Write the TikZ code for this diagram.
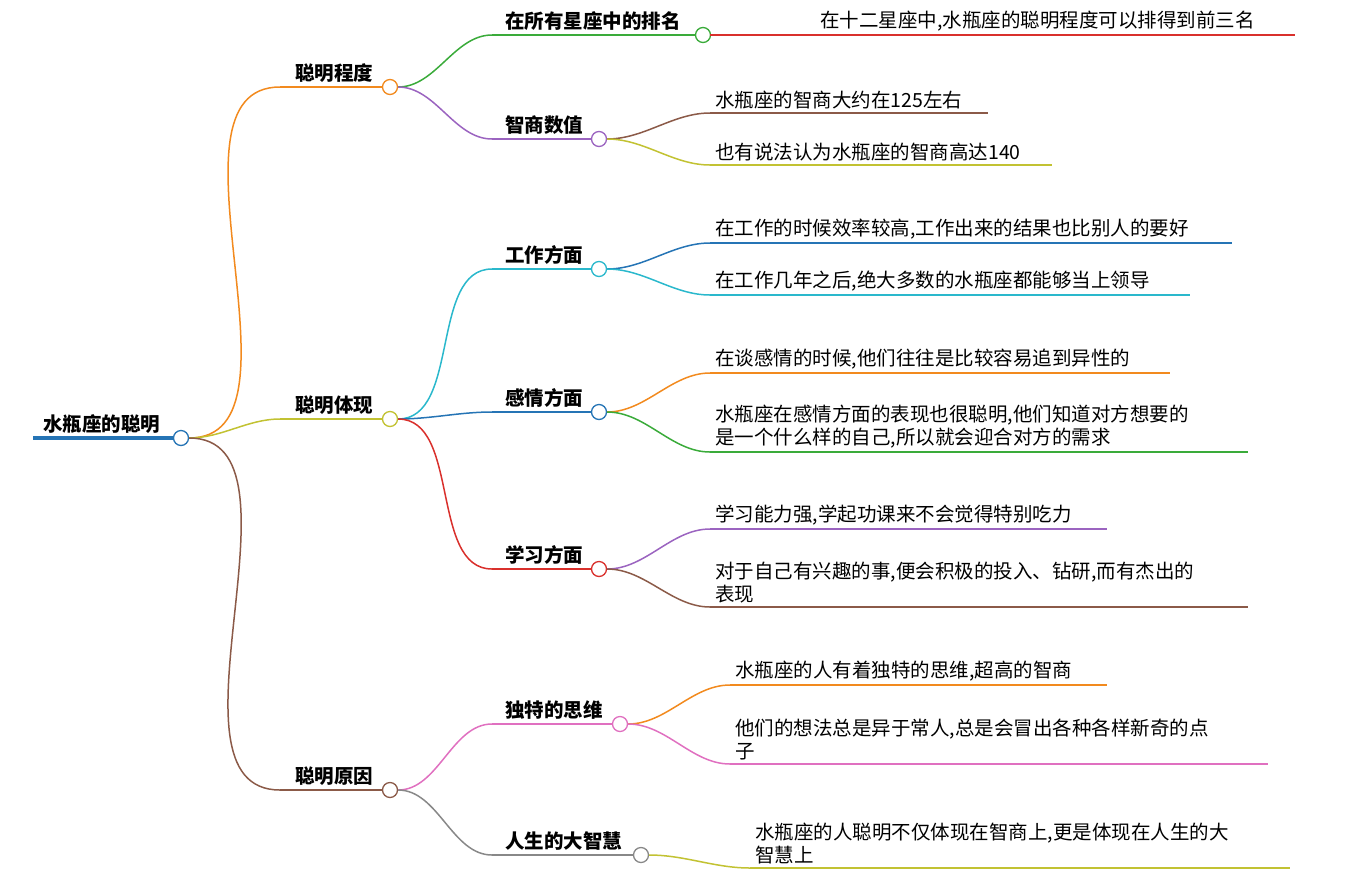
\documentclass[tikz,border=0pt]{standalone}
\usepackage{fontspec}
\setmainfont{Noto Sans CJK SC}
\usetikzlibrary{positioning,calc}
\definecolor{cOrange}{HTML}{F28A1E}
\definecolor{cOlive}{HTML}{C2C232}
\definecolor{cBrown}{HTML}{8B5A48}
\definecolor{cGreen}{HTML}{3AAB3A}
\definecolor{cPurple}{HTML}{9B64C0}
\definecolor{cRed}{HTML}{D9302C}
\definecolor{cCyan}{HTML}{2AB8CC}
\definecolor{cBlue}{HTML}{2574B5}
\definecolor{cPink}{HTML}{E070C0}
\definecolor{cGray}{HTML}{888888}
\tikzset{
	% circle on a branch
	dot/.style={circle, draw=#1, fill=white, line width=1.3pt, minimum size=15pt, inner sep=0pt},
	% bold branch labels
	topic/.style={font=\fontsize{19.5}{22}\selectfont\bfseries, inner sep=0pt, anchor=south west},
	% leaf texts
	leaf/.style={font=\fontsize{19.5}{23}\selectfont, inner sep=0pt, anchor=south west, align=left},
	link/.style={line width=1.5pt}
}
\newcommand{\branch}[3]{\draw[link, #1] (#2) to[out=0, in=180, looseness=0.9] (#3);}
\begin{document}
\begin{tikzpicture}[x=1pt,y=-1pt]
	\useasboundingbox (0,0) rectangle (1346,879);
	
	%root
	\coordinate (rootL) at (33,438);
	\node[dot=cBlue] (root) at (181,438) {};
	\draw[cBlue, line width=4pt] (rootL) -- (root.west);
	\node[topic] (rootT) at (43,434) {水瓶座的聪明};
	
	%level one
	\node[dot=cOrange] (deg) at (390,87) {};
	\node[dot=cOlive] (show) at (390,419) {};
	\node[dot=cBrown] (why) at (390,790) {};
	\coordinate (degL) at (280,87);
	\coordinate (showL) at (280,419);
	\coordinate (whyL) at (280,790);
	\draw[link, cOrange] (degL) -- (deg.west);
	\draw[link, cOlive] (showL) -- (show.west);
	\draw[link, cBrown] (whyL) -- (why.west);
	\branch{cOrange}{root.east}{degL}
	\branch{cOlive}{root.east}{showL}
	\branch{cBrown}{root.east}{whyL}
	\node[topic] at (295,83) {聪明程度};
	\node[topic] at (295,415) {聪明体现};
	\node[topic] at (295,786) {聪明原因};
	
	%level two
	\node[dot=cGreen] (rank) at (703,35) {};
	\node[dot=cPurple] (iq) at (599,139) {};
	\node[dot=cCyan] (work) at (599,269) {};
	\node[dot=cBlue] (love) at (599,412) {};
	\node[dot=cRed] (study) at (599,569) {};
	\node[dot=cPink] (think) at (620,724) {};
	\node[dot=cGray] (wise) at (641,855) {};
	\foreach \n/\p/\c/\t in {rank/deg/cGreen/在所有星座中的排名, iq/deg/cPurple/智商数值, work/show/cCyan/工作方面, love/show/cBlue/感情方面, study/show/cRed/学习方面, think/why/cPink/独特的思维, wise/why/cGray/人生的大智慧}{
		\coordinate (\n L) at (\n.west -| 492,0);
		\draw[link, \c] (\n L) -- (\n.west);
		\branch{\c}{\p.east}{\n L}
		\node[topic] at ($(\n L)+(13,-4)$) {\t};
	}
	
	%leaves
	\foreach \p/\y/\s/\e/\c/\t in {
		rank/35/710/1295/cRed/{\hspace{105pt}在十二星座中,水瓶座的聪明程度可以排得到前三名},
		iq/113/710/988/cBrown/{水瓶座的智商大约在125左右},
		iq/165/710/1052/cOlive/{也有说法认为水瓶座的智商高达140},
		work/243/710/1232/cBlue/{在工作的时候效率较高,工作出来的结果也比别人的要好},
		work/295/710/1190/cCyan/{在工作几年之后,绝大多数的水瓶座都能够当上领导},
		love/373/710/1170/cOrange/{在谈感情的时候,他们往往是比较容易追到异性的},
		love/452/710/1248/cGreen/{水瓶座在感情方面的表现也很聪明,他们知道对方想要的\\是一个什么样的自己,所以就会迎合对方的需求},
		study/529/710/1107/cPurple/{学习能力强,学起功课来不会觉得特别吃力},
		study/607/710/1248/cBrown/{对于自己有兴趣的事,便会积极的投入、钻研,而有杰出的\\表现},
		think/685/730/1107/cOrange/{水瓶座的人有着独特的思维,超高的智商},
		think/764/730/1268/cPink/{他们的想法总是异于常人,总是会冒出各种各样新奇的点\\子},
		wise/868/750/1290/cOlive/{水瓶座的人聪明不仅体现在智商上,更是体现在人生的大\\智慧上}}{
		\coordinate (a) at (\s,\y);
		\coordinate (b) at (\e,\y);
		\ifnum\s=710 \ifnum\y=35 \else \branch{\c}{\p.east}{a}\fi \else \branch{\c}{\p.east}{a}\fi
		\draw[link, \c, line width=1.2pt] (a) -- (b);
		\node[leaf] at ($(a)+(5,-4)$) {\t};
	}
\end{tikzpicture}
\end{document}
